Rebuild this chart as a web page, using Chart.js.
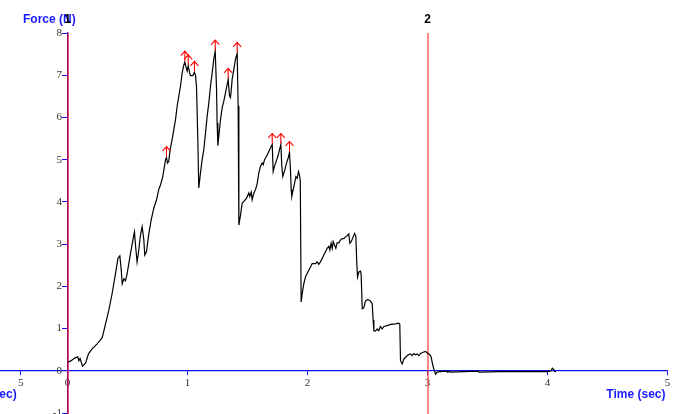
<!DOCTYPE html>
<html>
<head>
<meta charset="utf-8">
<script src="https://cdn.jsdelivr.net/npm/chart.js@4.4.1/dist/chart.umd.min.js"></script>
<style>
  html, body { margin: 0; padding: 0; background: #ffffff; }
  #wrap { width: 686px; height: 414px; }
</style>
</head>
<body>
<div id="wrap"><canvas id="c" width="686" height="414"></canvas></div>
<script>
// Force trace: time (s) and force (N)
const timeSec = [
  0.005, 0.03, 0.06, 0.085, 0.095, 0.105, 0.125, 0.15, 0.175, 0.205,
  0.245, 0.275, 0.29, 0.317, 0.344, 0.372, 0.40, 0.42, 0.436, 0.447,
  0.456, 0.47, 0.483, 0.497, 0.525, 0.547, 0.558, 0.569, 0.58, 0.594,
  0.608, 0.622, 0.636, 0.644, 0.658, 0.678, 0.697, 0.719, 0.742, 0.761,
  0.775, 0.794, 0.808, 0.817, 0.825, 0.833, 0.844, 0.85, 0.858, 0.872,
  0.886, 0.90, 0.914, 0.942, 0.956, 0.969, 0.978, 0.989, 0.997, 1.006,
  1.017, 1.025, 1.044, 1.058, 1.067, 1.075, 1.086, 1.094, 1.108, 1.122,
  1.136, 1.15, 1.164, 1.178, 1.192, 1.206, 1.219, 1.231, 1.242, 1.247,
  1.253, 1.261, 1.275, 1.289, 1.303, 1.317, 1.331, 1.339, 1.35, 1.358,
  1.364, 1.372, 1.386, 1.40, 1.414, 1.422, 1.428, 1.442, 1.456, 1.47,
  1.492, 1.511, 1.519, 1.531, 1.539, 1.553, 1.567, 1.581, 1.594, 1.608,
  1.622, 1.631, 1.642, 1.658, 1.672, 1.692, 1.706, 1.714, 1.725, 1.739,
  1.753, 1.767, 1.778, 1.786, 1.794, 1.803, 1.811, 1.825, 1.839, 1.85,
  1.858, 1.864, 1.869, 1.881, 1.892, 1.903, 1.914, 1.925, 1.933, 1.94,
  1.947, 1.956, 1.969, 1.983, 2.003, 2.025, 2.039, 2.067, 2.081, 2.094,
  2.108, 2.122, 2.136, 2.15, 2.164, 2.178, 2.186, 2.197, 2.206, 2.214,
  2.225, 2.236, 2.247, 2.261, 2.275, 2.289, 2.303, 2.317, 2.331, 2.344,
  2.353, 2.364, 2.375, 2.392, 2.403, 2.41, 2.417, 2.428, 2.442, 2.447,
  2.456, 2.469, 2.483, 2.503, 2.525, 2.539, 2.547, 2.553, 2.567, 2.581,
  2.594, 2.608, 2.622, 2.636, 2.664, 2.692, 2.733, 2.761, 2.769, 2.775,
  2.789, 2.803, 2.831, 2.858, 2.872, 2.886, 2.90, 2.914, 2.928, 2.942,
  2.964, 2.983, 3.003, 3.019, 3.031, 3.042, 3.053, 3.067, 3.081, 3.10,
  3.16, 3.17, 3.18, 3.19, 3.30, 3.42, 3.43, 3.60, 3.80, 4.00,
  4.03, 4.04, 4.05, 4.06, 4.07
];
const forceN = [
  0.20, 0.24, 0.30, 0.33, 0.24, 0.29, 0.11, 0.18, 0.40, 0.52,
  0.63, 0.73, 0.79, 1.11, 1.43, 1.83, 2.30, 2.66, 2.72, 2.42,
  2.06, 2.18, 2.13, 2.30, 2.78, 3.13, 3.29, 2.90, 2.58, 2.86,
  3.21, 3.41, 3.10, 2.74, 2.82, 3.25, 3.57, 3.85, 4.05, 4.30,
  4.40, 4.60, 4.84, 5.00, 5.05, 4.92, 4.96, 5.12, 5.28, 5.48,
  5.71, 5.95, 6.27, 6.75, 7.06, 7.24, 7.31, 7.18, 7.10, 7.22,
  7.06, 6.99, 6.99, 7.07, 6.99, 6.73, 5.48, 4.33, 4.68, 5.00,
  5.24, 5.63, 6.03, 6.35, 6.75, 7.06, 7.38, 7.57, 6.67, 5.87,
  5.33, 5.56, 5.95, 6.23, 6.39, 6.59, 6.79, 6.90, 6.51, 6.47,
  6.63, 6.90, 7.14, 7.38, 7.52, 6.27, 3.45, 3.69, 3.97, 4.01,
  4.09, 4.21, 4.13, 4.23, 4.05, 4.21, 4.29, 4.44, 4.68, 4.84,
  4.92, 4.88, 5.00, 5.08, 5.16, 5.28, 5.36, 4.72, 4.84, 4.96,
  5.08, 5.24, 5.36, 4.84, 4.60, 4.68, 4.76, 4.92, 5.04, 5.17,
  4.76, 4.29, 4.13, 4.29, 4.44, 4.60, 4.56, 4.72, 4.64, 4.50,
  1.63, 1.83, 2.06, 2.22, 2.34, 2.46, 2.54, 2.54, 2.58, 2.52,
  2.58, 2.66, 2.74, 2.82, 2.90, 2.95, 2.86, 3.02, 2.90, 3.06,
  2.98, 2.90, 3.03, 3.03, 3.10, 3.13, 3.13, 3.17, 3.20, 3.24,
  3.02, 3.06, 3.13, 3.25, 3.19, 2.60, 2.22, 2.34, 2.36, 2.28,
  1.47, 1.49, 1.65, 1.69, 1.65, 1.59, 1.20, 0.95, 0.94, 0.99,
  0.95, 1.05, 0.99, 1.05, 1.07, 1.10, 1.11, 1.13, 1.11, 0.24,
  0.16, 0.28, 0.36, 0.40, 0.36, 0.41, 0.38, 0.40, 0.36, 0.41,
  0.44, 0.46, 0.41, 0.38, 0.32, 0.16, 0.04, -0.08, -0.03, -0.02,
  -0.01, -0.04, -0.01, -0.03, -0.02, -0.01, -0.03, -0.02, -0.02, -0.02,
  0.00, 0.06, 0.04, -0.01, -0.02
];

// Detected peaks (marked with arrows)
const peakTimes  = [0.825, 0.978, 1.006, 1.058, 1.231, 1.339, 1.414, 1.706, 1.778, 1.85];
const peakForces = [5.05, 7.31, 7.22, 7.07, 7.57, 6.90, 7.52, 5.36, 5.36, 5.17];

// Axis ticks
const xTickValues = [-0.39, 0, 1, 2, 3, 4, 5];
const xTickLabels = ['5', '0', '1', '2', '3', '4', '5'];
const yTickValues = [-1, 0, 1, 2, 3, 4, 5, 6, 7, 8];

// Cursors
const cursorTimes  = [0, 3];
const cursorLabels = ['1', '2'];

const AXIS_BLUE = '#1010f0';
const TICK_FONT = { family: '"Liberation Serif", "DejaVu Serif", serif', size: 11 };

const overlay = {
  id: 'overlay',
  beforeDatasetsDraw(chart) {
    const { ctx, chartArea, scales } = chart;
    ctx.save();
    cursorTimes.forEach((t, i) => {
      const px = Math.round(scales.x.getPixelForValue(t));
      ctx.strokeStyle = i === 0 ? 'rgba(235,0,40,0.9)' : 'rgba(255,40,40,0.8)';
      ctx.lineWidth = 1.4;
      ctx.beginPath();
      ctx.moveTo(px, chartArea.top);
      ctx.lineTo(px, chart.height);
      ctx.stroke();
    });
    ctx.restore();
  },
  afterDatasetsDraw(chart) {
    const { ctx, scales } = chart;
    ctx.save();
    // peak arrows
    ctx.strokeStyle = '#ff0000';
    ctx.lineWidth = 1.1;
    peakTimes.forEach((t, i) => {
      const px = scales.x.getPixelForValue(t);
      const py = scales.y.getPixelForValue(peakForces[i]);
      const tip = py - 11;
      ctx.beginPath();
      ctx.moveTo(px, py - 1);
      ctx.lineTo(px, tip);
      ctx.moveTo(px - 4, tip + 4.5);
      ctx.lineTo(px, tip);
      ctx.lineTo(px + 4, tip + 4.5);
      ctx.stroke();
    });

    // axis titles
    ctx.fillStyle = '#1a1aff';
    ctx.font = 'bold 12px "Liberation Sans", Arial, sans-serif';
    ctx.textBaseline = 'middle';
    ctx.textAlign = 'left';
    ctx.fillText('Force (N)', 23, 20);
    ctx.textAlign = 'right';
    const xEnd = scales.x.getPixelForValue(5);
    ctx.fillText('Time (sec)', xEnd - 2, 395);
    ctx.fillText('Time (sec)', scales.x.getPixelForValue(-0.39) - 4, 395);

    // cursor labels
    ctx.fillStyle = '#000000';
    ctx.textAlign = 'center';
    cursorTimes.forEach((t, i) => {
      ctx.fillText(cursorLabels[i], scales.x.getPixelForValue(t), 20);
    });
    ctx.restore();
  }
};

new Chart(document.getElementById('c'), {
  type: 'line',
  data: {
    datasets: [{
      data: timeSec.map((t, i) => ({ x: t, y: forceN[i] })),
      borderColor: '#000000',
      borderWidth: 1.2,
      pointRadius: 0,
      tension: 0,
      fill: false
    }]
  },
  options: {
    responsive: false,
    animation: false,
    events: [],
    layout: { padding: { left: 0, right: 18.5, top: 33, bottom: 1 } },
    plugins: { legend: { display: false }, tooltip: { enabled: false } },
    scales: {
      x: {
        type: 'linear',
        position: { y: 0 },
        min: -0.5625,
        max: 5,
        afterBuildTicks: (s) => { s.ticks = xTickValues.map(v => ({ value: v })); },
        afterFit: (s) => { s.paddingLeft = 0; s.paddingRight = 0; },
        ticks: {
          autoSkip: false,
          maxRotation: 0,
          padding: 2,
          color: '#333333',
          font: TICK_FONT,
          callback: (v, i) => xTickLabels[i]
        },
        grid: { drawOnChartArea: false, drawTicks: true, tickLength: 4, color: AXIS_BLUE, tickColor: AXIS_BLUE },
        border: { display: true, color: AXIS_BLUE, width: 1.2 }
      },
      y: {
        type: 'linear',
        position: { x: 0 },
        min: -1,
        max: 8,
        afterBuildTicks: (s) => { s.ticks = yTickValues.map(v => ({ value: v })); },
        afterFit: (s) => { s.paddingTop = 0; s.paddingBottom = 0; },
        ticks: {
          autoSkip: false,
          color: '#333333',
          font: TICK_FONT,
          // en space keeps the right-aligned number clear of the axis line
          callback: (v) => String(v) + '\u2002'
        },
        grid: { drawOnChartArea: false, drawTicks: true, tickLength: 5, color: AXIS_BLUE, tickColor: AXIS_BLUE },
        border: { display: true, color: AXIS_BLUE, width: 1.2 }
      }
    }
  },
  plugins: [overlay]
});
</script>
</body>
</html>
